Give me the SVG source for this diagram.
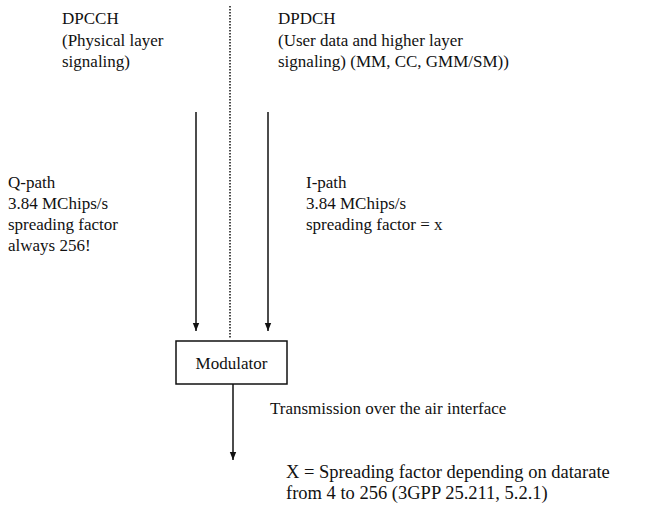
<svg xmlns="http://www.w3.org/2000/svg" width="650" height="515" viewBox="0 0 650 515">
<defs>
<style>
text{font-family:'Liberation Serif','Times New Roman','DejaVu Serif',serif;font-size:17px;fill:#111}
.note{font-size:18.5px}
.ln{stroke:#111;stroke-width:1.5;fill:none}
.dot{stroke:#111;stroke-width:1.5;stroke-dasharray:1.5 1.5;fill:none}
</style>
<marker id="ah" viewBox="0 0 10 10" refX="10" refY="5" markerWidth="8" markerHeight="8" markerUnits="userSpaceOnUse" orient="auto">
<path d="M0,1 L10,5 L0,9 z" fill="#111"/>
</marker>
</defs>
<rect width="650" height="515" fill="#fff"/>
<g id="connectors">
<line class="dot" x1="230" y1="6" x2="230" y2="338"/>
<line class="ln" x1="196" y1="112" x2="196" y2="331" marker-end="url(#ah)"/>
<line class="ln" x1="268" y1="112" x2="268" y2="331" marker-end="url(#ah)"/>
<line class="ln" x1="233" y1="384" x2="233" y2="460" marker-end="url(#ah)"/>
</g>
<g id="dpcch">
<text x="62" y="24">DPCCH</text>
<text x="62" y="46">(Physical layer</text>
<text x="62" y="67">signaling)</text>
</g>
<g id="dpdch">
<text x="278" y="24">DPDCH</text>
<text x="278" y="46">(User data and higher layer</text>
<text x="278" y="67">signaling) (MM, CC, GMM/SM))</text>
</g>
<g id="qpath">
<text x="8" y="188">Q-path</text>
<text x="8" y="209">3.84 MChips/s</text>
<text x="8" y="230">spreading factor</text>
<text x="8" y="251">always 256!</text>
</g>
<g id="ipath">
<text x="306" y="188">I-path</text>
<text x="306" y="209">3.84 MChips/s</text>
<text x="306" y="230">spreading factor = x</text>
</g>
<g id="modulator">
<rect class="ln" x="176" y="341" width="111" height="43"/>
<text x="231.5" y="369" text-anchor="middle">Modulator</text>
</g>
<g id="transmission">
<text x="270" y="414">Transmission over the air interface</text>
</g>
<g id="note">
<text class="note" x="286" y="478">X = Spreading factor depending on datarate</text>
<text class="note" x="286" y="499">from 4 to 256 (3GPP 25.211, 5.2.1)</text>
</g>
</svg>
